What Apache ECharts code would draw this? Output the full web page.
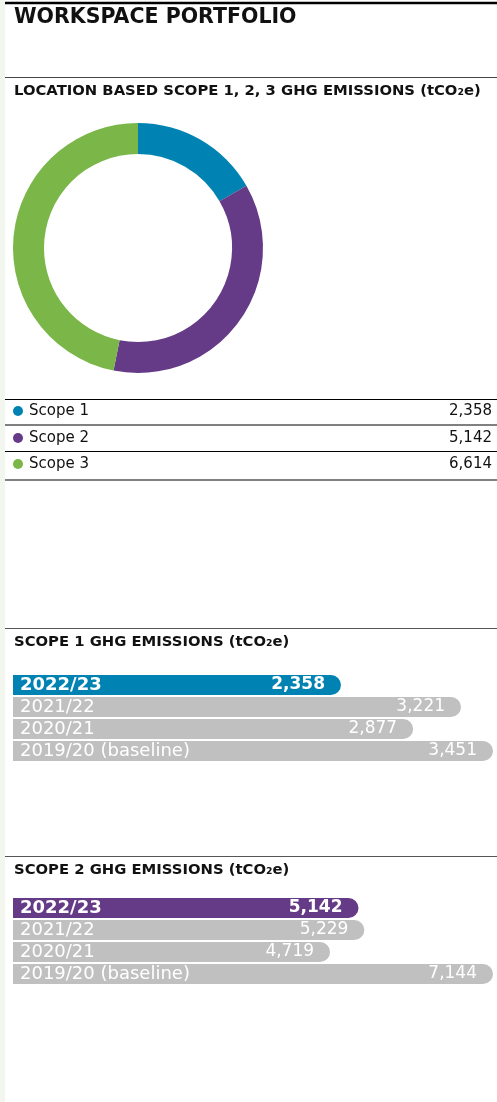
<!DOCTYPE html>
<html>
<head>
<meta charset="utf-8">
<script src="https://cdn.jsdelivr.net/npm/echarts@6/dist/echarts.min.js"></script>
<style>
html,body{margin:0;padding:0;background:#fff;}
#chart{width:497px;height:1102px;}
</style>
</head>
<body>
<div id="chart"></div>
<script>
var scopeNames = ['Scope 1', 'Scope 2', 'Scope 3'];
var scopeValues = [2358, 5142, 6614];
var scopeColors = ['#0083b3', '#653a87', '#7ab648'];

var years = ['2022/23', '2021/22', '2020/21', '2019/20 (baseline)'];
var scope1Values = [2358, 3221, 2877, 3451];
var scope2Values = [5142, 5229, 4719, 7144];

var FONT = '"DejaVu Sans", sans-serif';
var GREY = '#c0c0c0';

function fmt(v){
  return v.toString().replace(/\B(?=(\d{3})+(?!\d))/g, ',');
}

// bars: first row in colour, rest grey
function barData(vals, color){
  return vals.map(function(v, i){
    return {
      value: v,
      itemStyle: {color: i == 0 ? color : GREY},
      label: {fontWeight: i == 0 ? 'bold' : 'normal'}
    };
  });
}

function barSeries(idx, vals, color){
  return [
    {
      type: 'bar',
      xAxisIndex: idx, yAxisIndex: idx,
      barWidth: 20,
      data: barData(vals, color),
      itemStyle: {borderRadius: [0, 10, 10, 0]},
      label: {
        show: true, position: 'insideLeft', distance: 7,
        color: '#fff', fontSize: 18, fontFamily: FONT,
        formatter: function(p){ return years[p.dataIndex]; }
      }
    },
    {
      type: 'bar',
      xAxisIndex: idx, yAxisIndex: idx,
      barWidth: 20, barGap: '-100%',
      data: barData(vals, color).map(function(d){ d.itemStyle = {color: 'transparent'}; return d; }),
      label: {
        show: true, position: 'insideRight', distance: 16,
        color: '#fff', fontSize: 17, fontFamily: FONT,
        formatter: function(p){ return fmt(p.value); }
      }
    }
  ];
}

function line(y, color, w){
  return {type: 'line', shape: {x1: 5, y1: y, x2: 497, y2: y}, style: {stroke: color, lineWidth: w}};
}
function text(x, y, str, size, weight, align){
  return {type: 'text', x: x, y: y, style: {text: str, fontSize: size, fontWeight: weight || 'normal', fontFamily: FONT, fill: '#111', align: align || 'left', verticalAlign: 'middle'}};
}

var graphics = [
  {type: 'rect', shape: {x: 0, y: 0, width: 5, height: 1102}, style: {fill: '#f3f6ee'}},
  line(3, '#000', 2.5),
  text(14, 18, 'WORKSPACE PORTFOLIO', 20.5, 'bold'),
  line(77.5, '#444', 1),
  text(14, 91, 'LOCATION BASED SCOPE 1, 2, 3 GHG EMISSIONS (tCO₂e)', 14.8, 'bold'),
  line(628.5, '#555', 1),
  text(14, 642, 'SCOPE 1 GHG EMISSIONS (tCO₂e)', 14.8, 'bold'),
  line(856.5, '#555', 1),
  text(14, 870, 'SCOPE 2 GHG EMISSIONS (tCO₂e)', 14.8, 'bold')
];

// legend table under the donut
var rowY = [411, 438, 464];
var sepY = [399.5, 425, 451.5, 480];
sepY.forEach(function(y, i){
  graphics.push(i % 2 == 0 ? line(y, '#000', 1) : line(y, '#808080', 2));
});
scopeNames.forEach(function(n, i){
  graphics.push({type: 'circle', shape: {cx: 18, cy: rowY[i], r: 5}, style: {fill: scopeColors[i]}});
  graphics.push(text(29, rowY[i], n, 15));
  graphics.push(text(492, rowY[i], fmt(scopeValues[i]), 15, 'normal', 'right'));
});

var chart = echarts.init(document.getElementById('chart'));
var option = {
  animation: false,
  graphic: graphics,
  grid: [
    {left: 13, top: 674, width: 480, height: 88},
    {left: 13, top: 897, width: 480, height: 88}
  ],
  xAxis: [
    {gridIndex: 0, type: 'value', min: 0, max: Math.max.apply(null, scope1Values), show: false},
    {gridIndex: 1, type: 'value', min: 0, max: Math.max.apply(null, scope2Values), show: false}
  ],
  yAxis: [
    {gridIndex: 0, type: 'category', data: years, inverse: true, show: false},
    {gridIndex: 1, type: 'category', data: years, inverse: true, show: false}
  ],
  series: [
    {
      type: 'pie',
      silent: true,
      center: [138, 248],
      radius: [94, 125],
      startAngle: 90,
      label: {show: false},
      labelLine: {show: false},
      data: scopeNames.map(function(n, i){
        return {name: n, value: scopeValues[i], itemStyle: {color: scopeColors[i]}};
      })
    }
  ].concat(barSeries(0, scope1Values, scopeColors[0]), barSeries(1, scope2Values, scopeColors[1]))
};
chart.setOption(option);
</script>
</body>
</html>
